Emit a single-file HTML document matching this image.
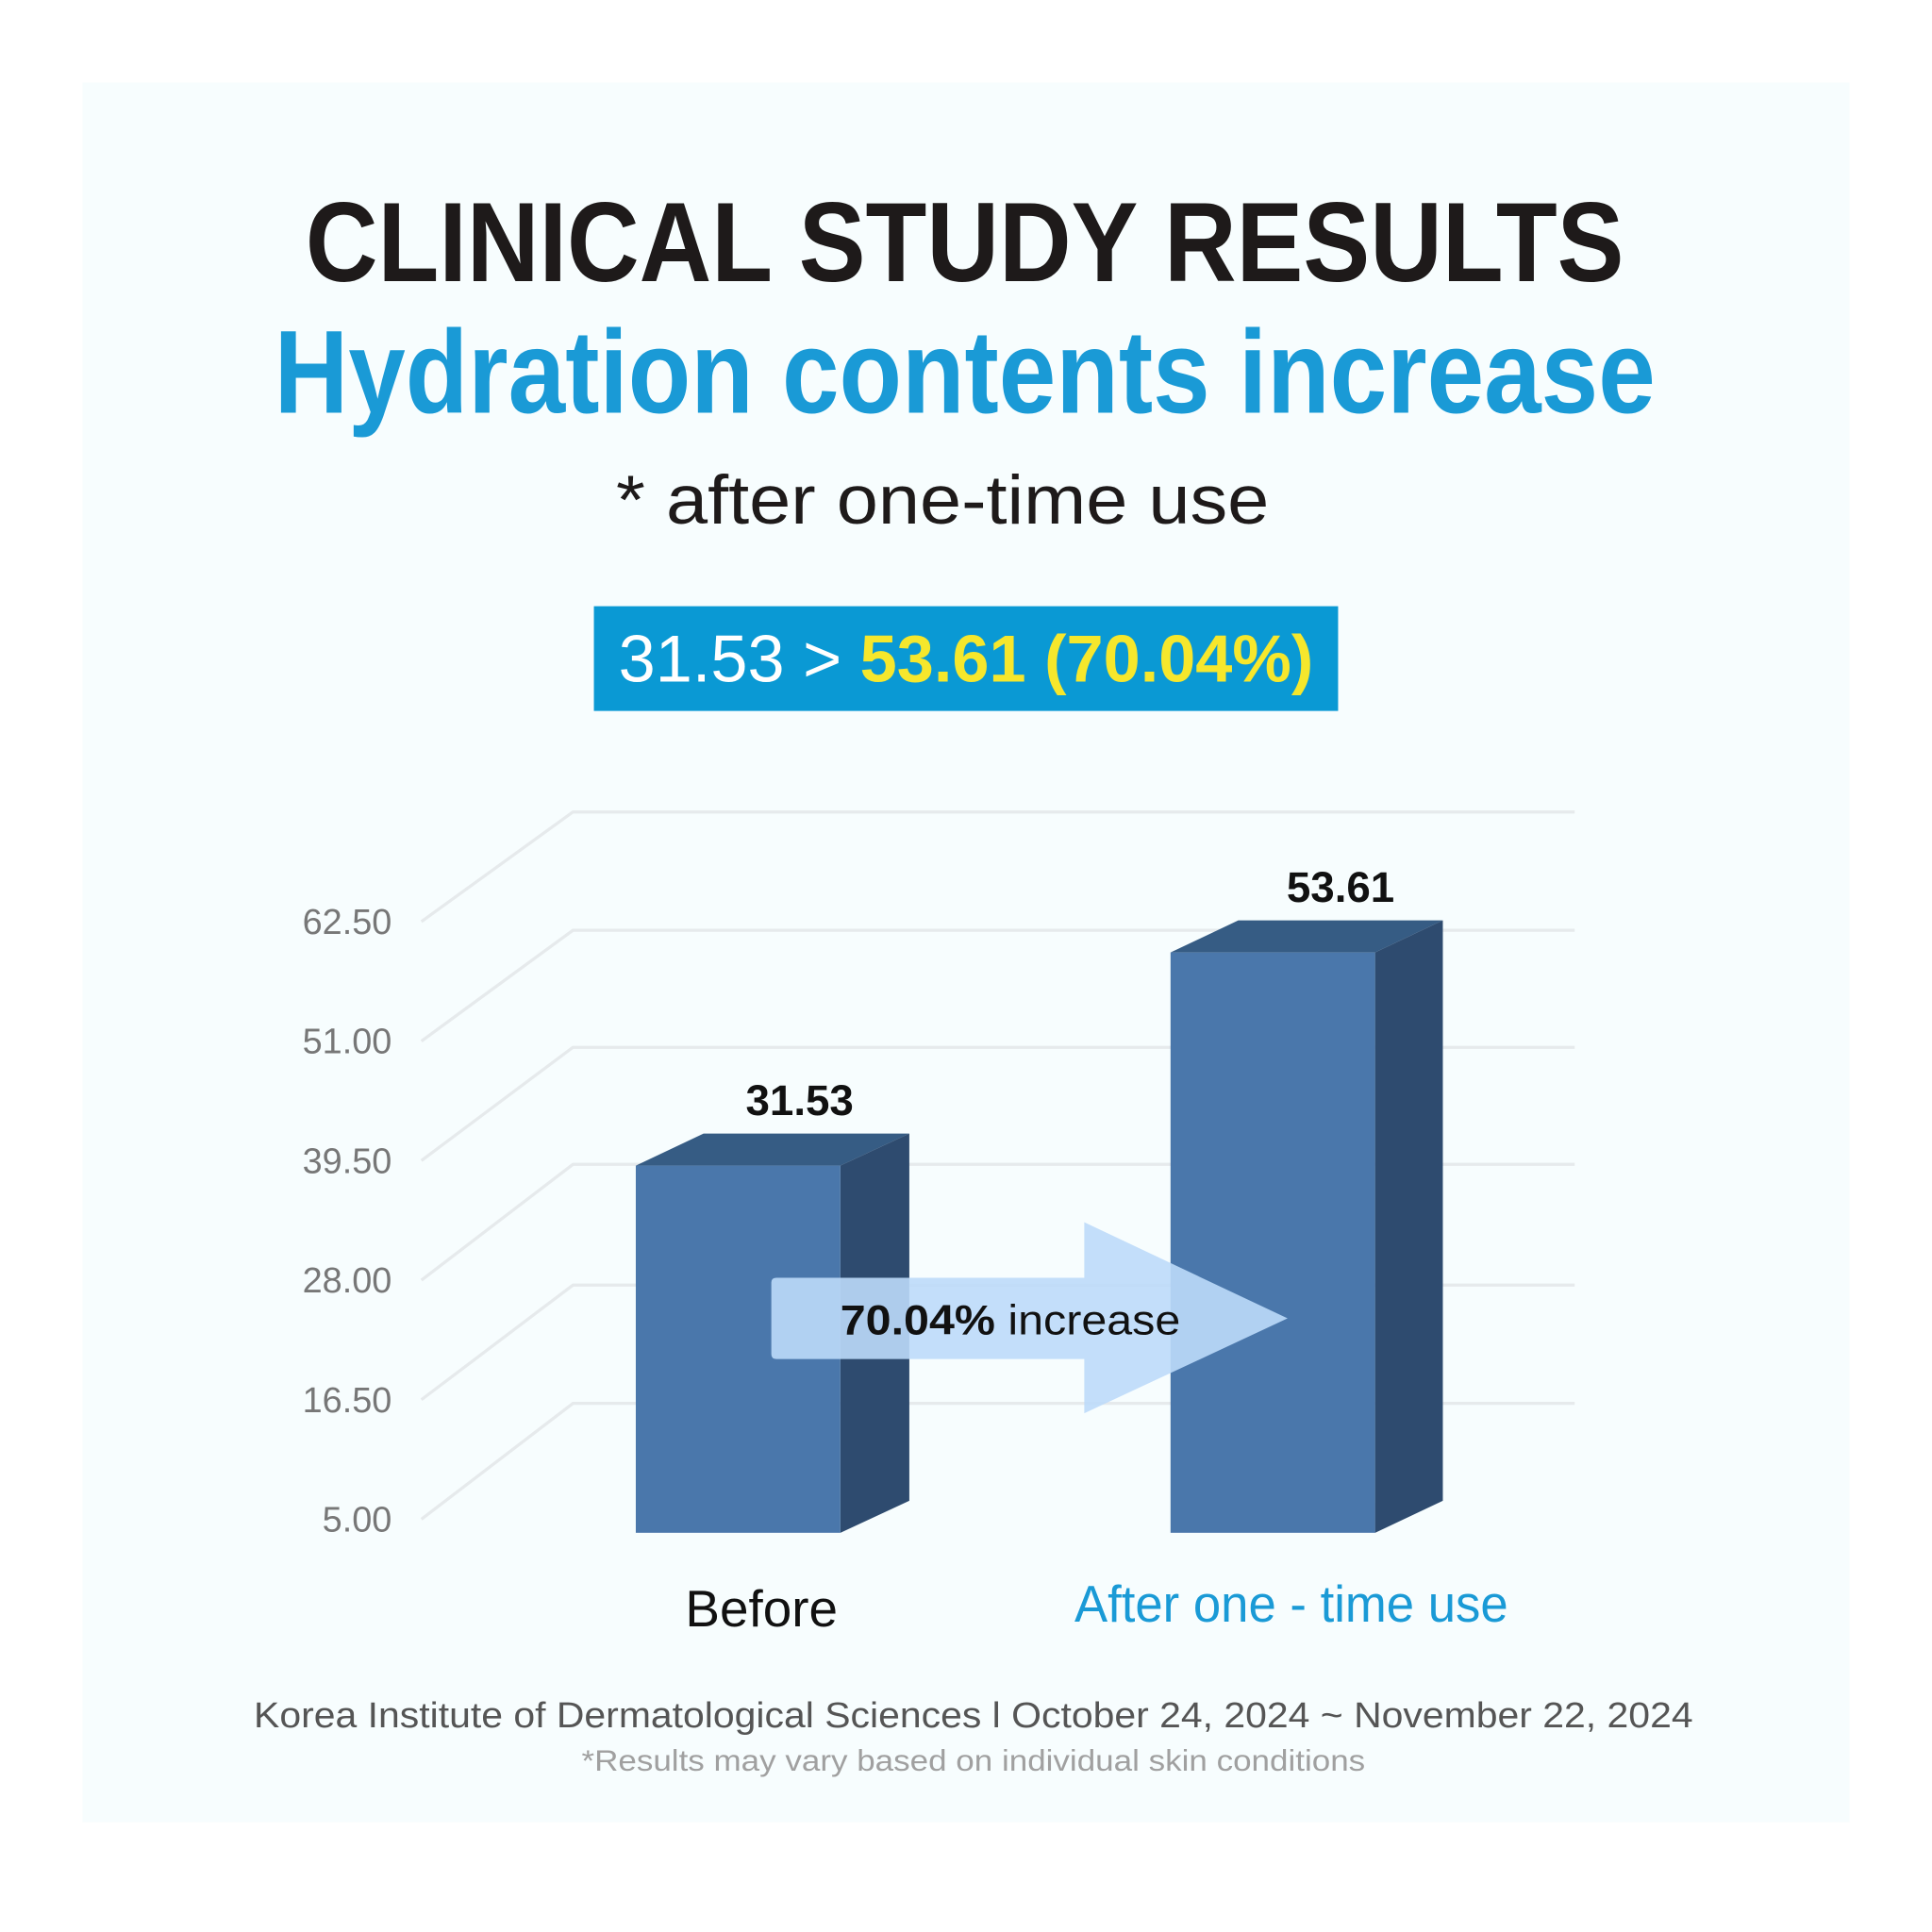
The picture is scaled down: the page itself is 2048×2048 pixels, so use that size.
<!DOCTYPE html>
<html><head><meta charset="utf-8"><style>
html,body{margin:0;padding:0;background:#fff;}
svg{display:block;}
text{font-family:"Liberation Sans",sans-serif;}
</style></head><body>
<svg width="2048" height="2048" viewBox="0 0 1568 1568" xmlns="http://www.w3.org/2000/svg">
<rect width="1568" height="1568" fill="#fff"/>
<rect x="67" y="67" width="1434" height="1412" fill="#f7fdfe"/>
<text x="783" y="228" text-anchor="middle" font-size="92" font-weight="bold" fill="#1e1a1a" textLength="1070" lengthAdjust="spacingAndGlyphs">CLINICAL STUDY RESULTS</text>
<text x="783" y="335" text-anchor="middle" font-size="96" font-weight="bold" fill="#1a9ad6" textLength="1121" lengthAdjust="spacingAndGlyphs">Hydration contents increase</text>
<text x="765" y="425" text-anchor="middle" font-size="56" fill="#1e1a1a" textLength="530" lengthAdjust="spacingAndGlyphs">* after one-time use</text>
<rect x="482" y="492" width="604" height="85" fill="#0a99d4"/>
<text x="502" y="553" font-size="54" fill="#fff" textLength="564" lengthAdjust="spacingAndGlyphs">31.53 &gt; <tspan fill="#f6e72c" font-weight="bold">53.61 (70.04%)</tspan></text>
<g stroke="#e6eaec" stroke-width="2.5" fill="none">
<path d="M342 748L465 659H1278"/>
<path d="M342 845L465 755H1278"/>
<path d="M342 942L465 850H1278"/>
<path d="M342 1039L465 945H1278"/>
<path d="M342 1136L465 1043H1278"/>
<path d="M342 1233L465 1139H1278"/>
</g>
<g font-size="29" fill="#777" text-anchor="end">
<text x="318" y="758">62.50</text>
<text x="318" y="855">51.00</text>
<text x="318" y="952">39.50</text>
<text x="318" y="1049">28.00</text>
<text x="318" y="1146">16.50</text>
<text x="318" y="1243">5.00</text>
</g>
<polygon points="516,946 571,920 738,920 682,946" fill="#365c84"/>
<polygon points="682,946 738,920 738,1218 682,1244" fill="#2e4b6f"/>
<rect x="516" y="946" width="166" height="298" fill="#4a77ab"/>
<polygon points="950,773 1005,747 1171,747 1116,773" fill="#365c84"/>
<polygon points="1116,773 1171,747 1171,1218 1116,1244" fill="#2e4b6f"/>
<rect x="950" y="773" width="166" height="471" fill="#4a77ab"/>
<text x="649" y="905" text-anchor="middle" font-size="35" font-weight="bold" fill="#111">31.53</text>
<text x="1088" y="732" text-anchor="middle" font-size="35" font-weight="bold" fill="#111">53.61</text>
<path d="M630 1037H880V992L1045 1070L880 1147V1103H630Q626 1103 626 1099V1041Q626 1037 630 1037Z" fill="#bcdaf9" fill-opacity="0.9"/>
<text x="682" y="1083" font-size="34" fill="#111" textLength="276" lengthAdjust="spacingAndGlyphs"><tspan font-weight="bold">70.04%</tspan> increase</text>
<text x="618" y="1320" text-anchor="middle" font-size="42" fill="#111">Before</text>
<text x="1048" y="1316" text-anchor="middle" font-size="42" fill="#1a9ad6" textLength="352" lengthAdjust="spacingAndGlyphs">After one - time use</text>
<text x="790" y="1402" text-anchor="middle" font-size="29" fill="#555" textLength="1168" lengthAdjust="spacingAndGlyphs">Korea Institute of Dermatological Sciences l October 24, 2024 ~ November 22, 2024</text>
<text x="790" y="1437" text-anchor="middle" font-size="24" fill="#a0a0a0" textLength="636" lengthAdjust="spacingAndGlyphs">*Results may vary based on individual skin conditions</text>
</svg>
</body></html>
